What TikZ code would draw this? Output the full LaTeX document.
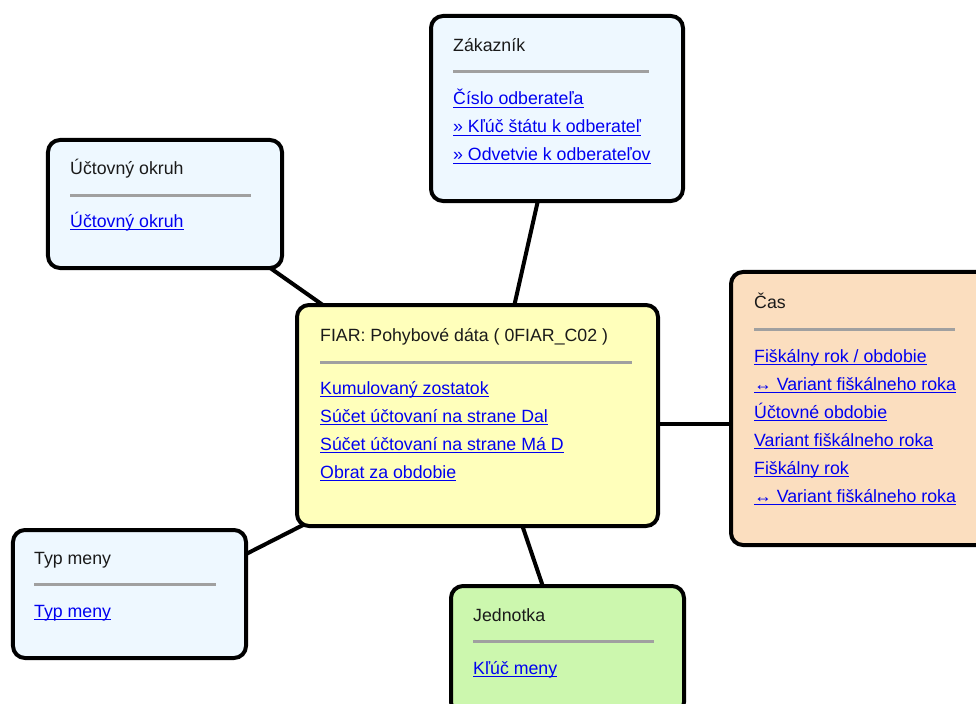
\documentclass[tikz,border=0pt]{standalone}
\usepackage{fontspec}
\setmainfont{Liberation Sans}
\usetikzlibrary{calc}
\pgfdeclarelayer{background}
\pgfsetlayers{background,main}
\definecolor{yelfill}{HTML}{FFFFBB}
\definecolor{bluefill}{HTML}{EEF8FF}
\definecolor{peachfill}{HTML}{FBDEBF}
\definecolor{greenfill}{HTML}{CCF7AE}
\definecolor{sepgray}{HTML}{A0A0A0}
\definecolor{linkblue}{HTML}{0000F0}
\definecolor{titlecol}{HTML}{1A1A1A}
\newcommand\mylink[1]{\setbox0\hbox{#1}\rlap{\rule[-3.2bp]{\wd0}{1.4bp}}\box0}
\begin{document}
\begin{tikzpicture}[x=1bp,y=-1bp,
  box/.style={draw=black,line width=4bp,rounded corners=12bp,inner sep=0pt},
  conn/.style={line width=4bp,draw=black},
  sepline/.style={line width=3bp,draw=sepgray},
  ttl/.style={anchor=base west,inner sep=0pt,font=\fontsize{17.8}{20}\selectfont,text=titlecol},
  lnk/.style={ttl,text=linkblue}]
\useasboundingbox (0,0) rectangle (976,704);
\clip (0,0) rectangle (976,704);

% boxes
\node[box,fill=yelfill,minimum width=361bp,minimum height=221bp] (ctr) at (477.5,415.5) {};
\node[box,fill=bluefill,minimum width=252bp,minimum height=185bp] (zak) at (557,108.5) {};
\node[box,fill=bluefill,minimum width=234bp,minimum height=128bp] (uok) at (165,204) {};
\node[box,fill=peachfill,minimum width=264bp,minimum height=273bp] (cas) at (863,408.5) {};
\node[box,fill=bluefill,minimum width=233bp,minimum height=128bp] (typ) at (129.5,594) {};
\node[box,fill=greenfill,minimum width=233bp,minimum height=128bp] (jed) at (567.5,650) {};

% connectors
\begin{pgfonlayer}{background}
\draw[conn] ($(zak.center)+(-16,78.5)$) -- ($(ctr.center)+(33.5,-95.5)$);
\draw[conn] ($(uok.center)+(85,49.8)$) -- ($(ctr.center)+(-132.5,-94.9)$);
\draw[conn] ($(typ.center)+(100.5,-31.8)$) -- ($(ctr.center)+(-147.5,95.8)$);
\draw[conn] ($(jed.center)+(-20.5,-51.5)$) -- ($(ctr.center)+(40.5,97.5)$);
\draw[conn] ($(cas.center)+(-103,15.5)$) -- ($(ctr.center)+(160,8.5)$);
\end{pgfonlayer}

% center box
\node[ttl] (ctrT) at (320,341) {FIAR: Pohybové dáta ( 0FIAR\_C02 )};
\draw[sepline] (320,362) -- (632,362);
\node[lnk] (ctrA) at (320,394) {\mylink{Kumulovaný zostatok}};
\node[lnk] (ctrB) at (320,422) {\mylink{Súčet účtovaní na strane Dal}};
\node[lnk] (ctrC) at (320,450) {\mylink{Súčet účtovaní na strane Má D}};
\node[lnk] (ctrD) at (320,478) {\mylink{Obrat za obdobie}};

% Zakaznik
\node[ttl] (zakT) at (453,52) {Zákazník};
\draw[sepline] (453,72) -- (649,72);
\node[lnk] (zakA) at (453,105) {\mylink{Číslo odberateľa}};
\node[lnk] (zakB) at (453,133) {\mylink{» Kľúč štátu k odberateľ}};
\node[lnk] (zakC) at (453,161) {\mylink{» Odvetvie k odberateľov}};

% Uctovny okruh
\node[ttl] (uokT) at (70,175) {Účtovný okruh};
\draw[sepline] (70,195) -- (251,195);
\node[lnk] (uokA) at (70,227) {\mylink{Účtovný okruh}};

% Cas
\node[ttl] (casT) at (754,308) {Čas};
\draw[sepline] (754,329) -- (955,329);
\node[lnk] (casA) at (754,362) {\mylink{Fiškálny rok / obdobie}};
\node[lnk] (casB) at (754,390) {\mylink{↔ Variant fiškálneho roka}};
\node[lnk] (casC) at (754,418) {\mylink{Účtovné obdobie}};
\node[lnk] (casD) at (754,446) {\mylink{Variant fiškálneho roka}};
\node[lnk] (casE) at (754,474) {\mylink{Fiškálny rok}};
\node[lnk] (casF) at (754,502) {\mylink{↔ Variant fiškálneho roka}};

% Typ meny
\node[ttl] (typT) at (34,564) {Typ meny};
\draw[sepline] (34,584) -- (216,584);
\node[lnk] (typA) at (34,617) {\mylink{Typ meny}};

% Jednotka
\node[ttl] (jedT) at (473,621) {Jednotka};
\draw[sepline] (473,641) -- (654,641);
\node[lnk] (jedA) at (473,674) {\mylink{Kľúč meny}};
\end{tikzpicture}
\end{document}
